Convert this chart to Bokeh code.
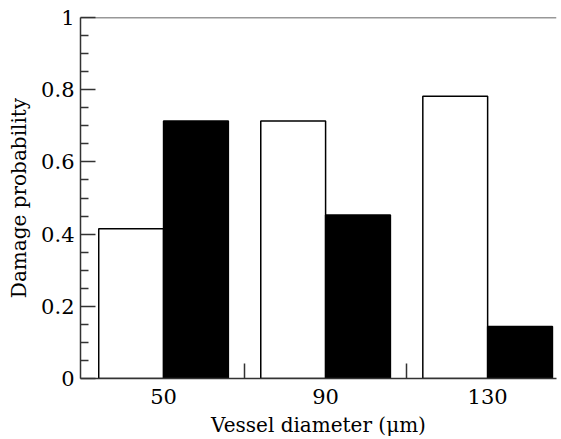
from bokeh.plotting import figure
from bokeh.models import FixedTicker, Span, Range1d
from bokeh.embed import file_html
from bokeh.resources import INLINE

# data
diameters = [50, 90, 130]
series_open = [0.415, 0.713, 0.782]
series_filled = [0.713, 0.453, 0.144]
x_ticks = [50, 90, 130]
x_minor = [70, 110]
y_ticks = [0, 0.2, 0.4, 0.6, 0.8, 1]
y_minor = [0.05, 0.1, 0.15, 0.25, 0.3, 0.35, 0.45, 0.5, 0.55, 0.65, 0.7, 0.75, 0.85, 0.9, 0.95]

BAR_W = 16
FONT = "DejaVu Serif"

p = figure(width=558, height=439, output_backend="svg", toolbar_location=None,
           x_range=Range1d(29.5, 147.0), y_range=Range1d(0, 1),
           min_border_left=80, min_border_right=2, min_border_top=17, min_border_bottom=60)
p.outline_line_color = None
p.grid.visible = False
p.background_fill_color = "white"

p.vbar(x=[d - BAR_W / 2 for d in diameters], top=series_open, width=BAR_W,
       fill_color="white", line_color="black", line_width=1.5)
p.vbar(x=[d + BAR_W / 2 for d in diameters], top=series_filled, width=BAR_W,
       fill_color="black", line_color="black", line_width=1.5)

p.add_layout(Span(location=1, dimension="width", line_color="#333333", line_width=1.5))

xa = p.xaxis[0]
xa.ticker = FixedTicker(ticks=x_ticks, minor_ticks=x_minor)
xa.axis_label = "Vessel diameter (\u03bcm)"
ya = p.yaxis[0]
ya.ticker = FixedTicker(ticks=y_ticks, minor_ticks=y_minor)
ya.axis_label = "Damage probability"
ya.major_label_overrides = {0: "0", 1: "1"}

for ax in (xa, ya):
    ax.axis_line_color = "#333333"
    ax.axis_line_width = 1.5
    ax.major_tick_line_color = "#333333"
    ax.minor_tick_line_color = "#333333"
    ax.major_tick_line_width = 1.5
    ax.minor_tick_line_width = 1.5
    ax.major_tick_out = 0
    ax.minor_tick_out = 0
    ax.major_label_text_font = FONT
    ax.major_label_text_font_size = "21px"
    ax.major_label_text_color = "black"
    ax.axis_label_text_font = FONT
    ax.axis_label_text_font_size = "20px"
    ax.axis_label_text_font_style = "normal"
    ax.axis_label_text_color = "black"

xa.major_tick_in = 0
xa.minor_tick_in = 15
xa.major_label_standoff = 10
xa.axis_label_standoff = 6
ya.major_tick_in = 15
ya.minor_tick_in = 8
ya.major_label_standoff = 6
ya.axis_label_standoff = 7

open("out.html", "w").write(file_html(p, INLINE))
